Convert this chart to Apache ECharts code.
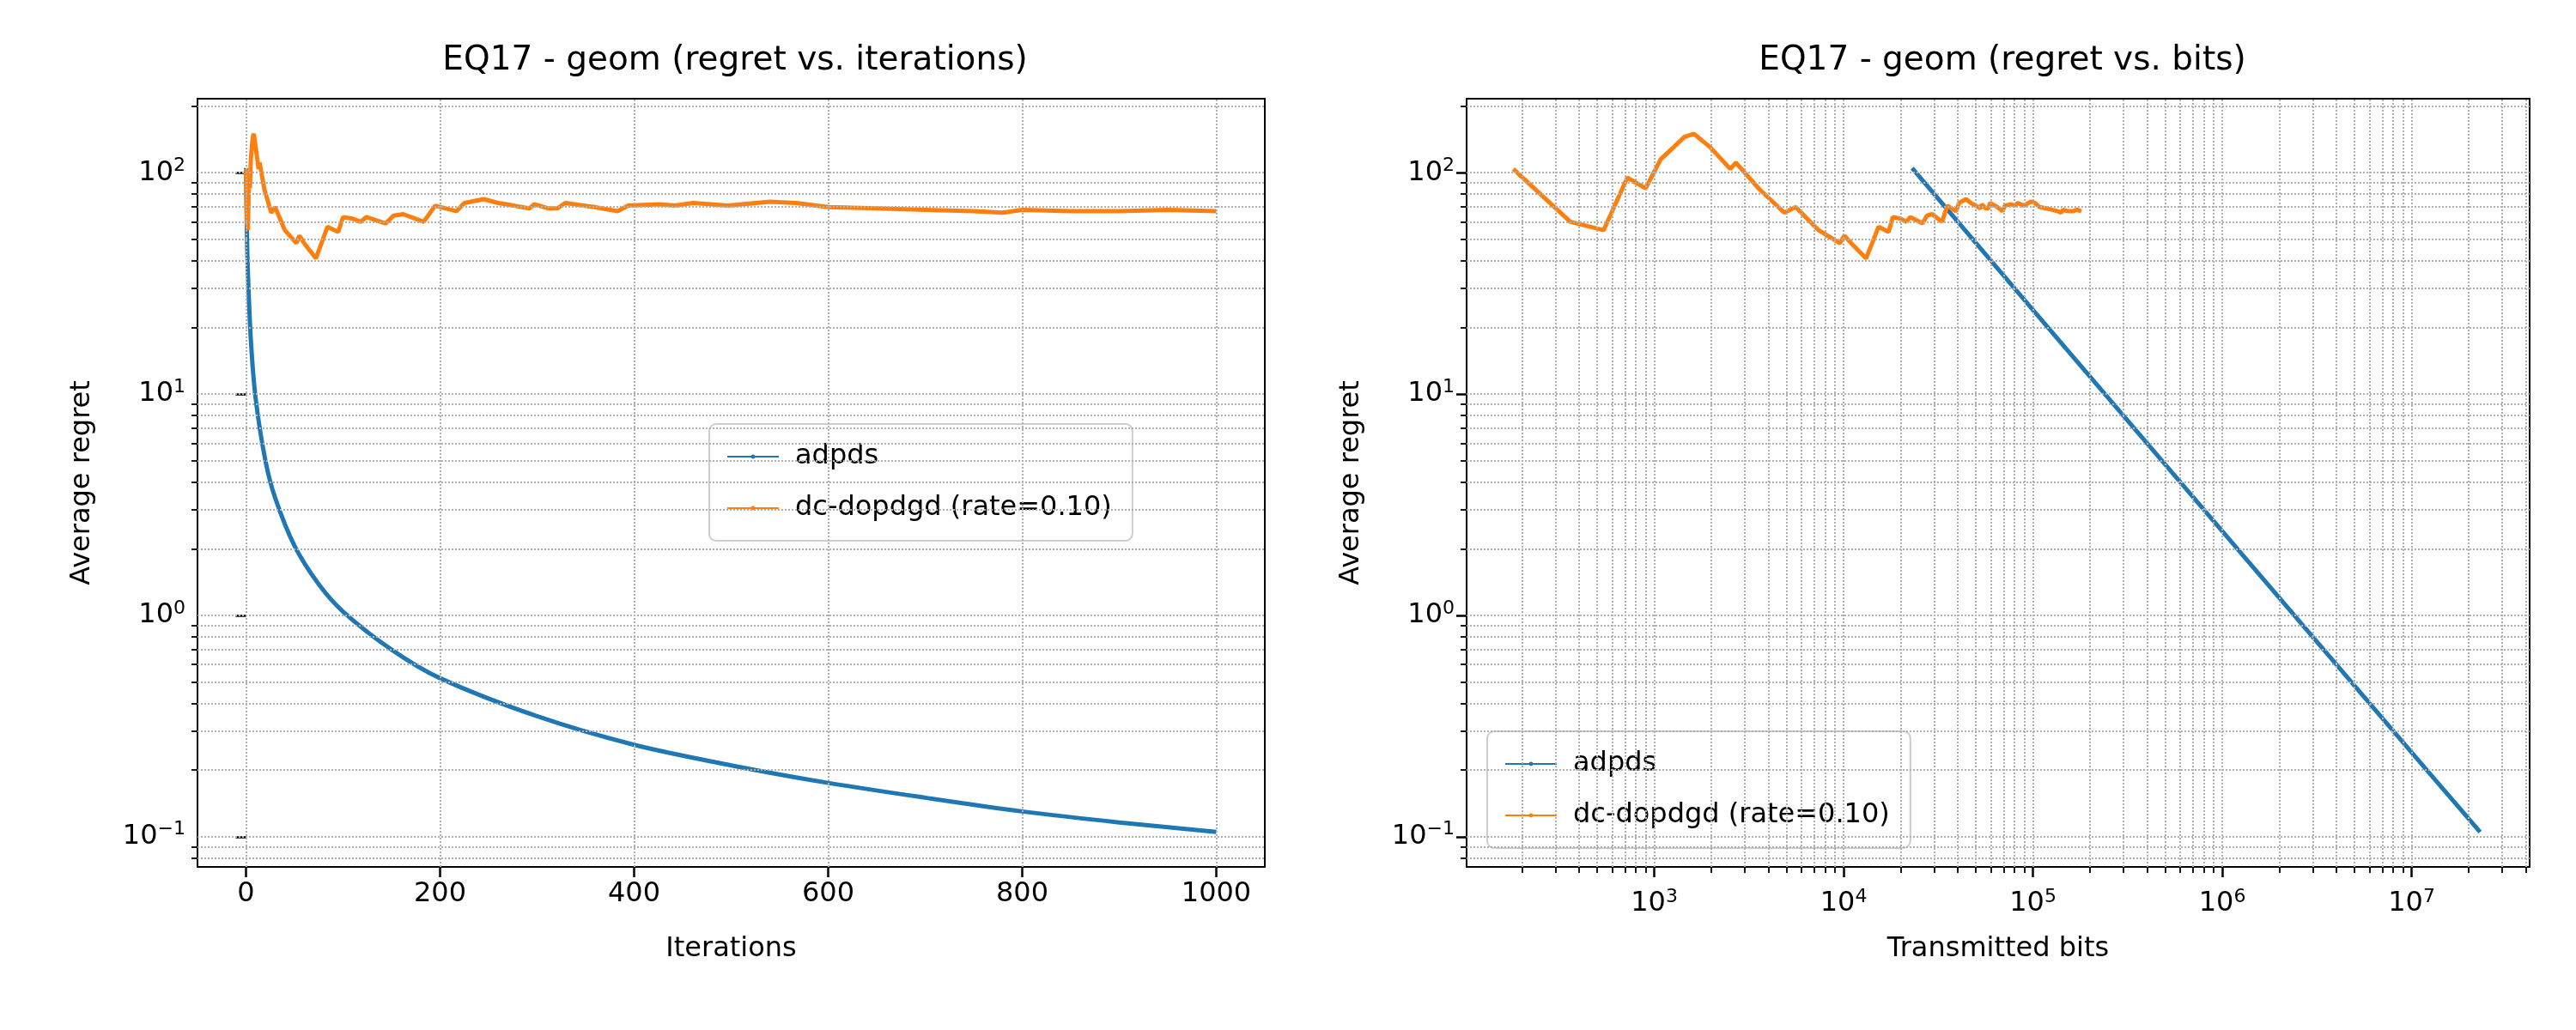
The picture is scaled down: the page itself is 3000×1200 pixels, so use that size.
<!DOCTYPE html>
<html>
<head>
<meta charset="utf-8">
<script src="https://cdn.jsdelivr.net/npm/echarts@6/dist/echarts.min.js"></script>
<style>
  html, body { margin: 0; padding: 0; background: #fff; }
  #chart { width: 3000px; height: 1200px; }
</style>
</head>
<body>
<div id="chart"></div>
<script>
// adpds
var adpdsIter = [0, 1, 2, 5, 10, 20, 30, 50, 75, 100, 150, 200, 300, 400, 500, 600, 700, 800, 900, 1000];
var adpdsRegret = [105, 52, 35, 17.5, 9.5, 5, 3.4, 2.06, 1.38, 1.04, 0.7, 0.52, 0.35, 0.26, 0.21, 0.175, 0.15, 0.13, 0.116, 0.105];
var adpdsBits = [23000, 100000, 1000000, 10000000, 23000000];
var adpdsBitsRegret = [105, 24, 2.4, 0.24, 0.105];

// dc-dopdgd (rate=0.10)
var dcIter = [0, 1, 2, 3, 4, 5, 6, 7, 8, 10, 13, 14, 19, 26, 30, 40, 52, 55, 60, 72, 84, 95,
  100, 110, 118, 124, 144, 152, 162, 183, 195, 217, 225, 245, 260, 276, 292, 297, 312, 321, 329,
  359, 383, 394, 426, 442, 461, 497, 540, 567, 600, 650, 700, 750, 780, 800, 850, 900, 950, 1000];
var dcRegret = [104, 60, 55, 95, 85, 115, 130, 145, 150, 130, 104, 111, 84, 66, 70, 55, 48, 52, 48, 41, 57, 54,
  63, 62, 60, 63, 59, 64, 65, 60, 71, 67, 73, 76, 73, 71, 69, 72, 69, 69, 73,
  70, 67, 71, 72, 71, 73, 71, 74, 73, 70, 69, 68, 67, 66, 68, 67, 67, 68, 67];
var dcBits = [180, 360, 540, 720, 900, 1080, 1260, 1440, 1620, 1980, 2520, 2700, 3600, 4860, 5580, 7380, 9540, 10080, 10980, 13140, 15300, 17280,
  18180, 19980, 21420, 22500, 26100, 27540, 29340, 33120, 35280, 39240, 40680, 44280, 46980, 49860, 52740, 53640, 56340, 57960, 59400,
  64800, 69120, 71100, 76860, 79740, 83160, 89640, 97380, 102240, 108180, 117180, 126180, 135180, 140580, 144180, 153180, 162180, 171180, 180180];

// ticks and grid
var xTicksIter = [0, 200, 400, 600, 800, 1000];
var yMajor = [0.1, 1, 10, 100];
var yMinor = [0.08, 0.09, 0.2, 0.3, 0.4, 0.5, 0.6, 0.7, 0.8, 0.9, 2, 3, 4, 5, 6, 7, 8, 9, 20, 30, 40, 50, 60, 70, 80, 90, 200];
var xBitsMajor = [1e3, 1e4, 1e5, 1e6, 1e7];
var xBitsMinor = [200, 300, 400, 500, 600, 700, 800, 900,
  2e3, 3e3, 4e3, 5e3, 6e3, 7e3, 8e3, 9e3, 2e4, 3e4, 4e4, 5e4, 6e4, 7e4, 8e4, 9e4,
  2e5, 3e5, 4e5, 5e5, 6e5, 7e5, 8e5, 9e5, 2e6, 3e6, 4e6, 5e6, 6e6, 7e6, 8e6, 9e6, 2e7, 3e7, 4e7];

var FONT = 'DejaVu Sans';
var BLUE = '#1f77b4', ORANGE = '#ff7f0e';

function pairs(xs, ys) {
    return xs.map(function (x, i) { return [x, ys[i]]; });
}
function powLabel(v) {
    var e = Math.round(Math.log10(v));
    return '10{e|' + (e < 0 ? '\u2212' + (-e) : e) + '}';
}
var richPow = {
    e: { fontSize: 22, fontFamily: FONT, color: '#000', padding: [0, 0, 16, 0] }
};
var gridLine = { type: 'dotted', color: '#b0b0b0', width: 2 };
function hLines(vals) { return vals.map(function (v) { return { yAxis: v }; }); }
function vLines(vals) { return vals.map(function (v) { return { xAxis: v }; }); }

function logY(gridIndex, show, values, len) {
    return {
        type: 'log', logBase: 10, gridIndex: gridIndex, min: 0.073, max: 216, position: 'left', offset: 0,
        axisLine: { show: false },
        axisTick: { show: true, inside: false, length: len, customValues: values, lineStyle: { color: '#000', width: show ? 2.5 : 1.8 } },
        axisLabel: show ? { show: true, customValues: values, formatter: powLabel, rich: richPow,
            fontSize: 32, fontFamily: FONT, color: '#000', margin: 14 } : { show: false },
        splitLine: { show: false }, minorTick: { show: false }, minorSplitLine: { show: false },
        name: show ? 'Average regret' : '', nameLocation: 'middle', nameGap: 118,
        nameTextStyle: { fontSize: 32, fontFamily: FONT, color: '#000' }
    };
}

var legendBase = {
    orient: 'vertical', data: ['adpds', 'dc-dopdgd (rate=0.10)'],
    itemWidth: 60, itemHeight: 6, itemGap: 28, padding: [22, 24, 22, 20],
    backgroundColor: 'rgba(255,255,255,0.8)', borderColor: '#cccccc', borderWidth: 2, borderRadius: 8,
    textStyle: { fontSize: 32, fontFamily: FONT, color: '#000', padding: [0, 0, 0, 14] }
};

var chart = echarts.init(document.getElementById('chart'));
var option = {
    backgroundColor: '#fff',
    animation: false,
    title: [
        { text: 'EQ17 - geom (regret vs. iterations)', left: 851, top: 46, textAlign: 'center',
          textStyle: { fontSize: 39, fontWeight: 'normal', fontFamily: FONT, color: '#000' } },
        { text: 'EQ17 - geom (regret vs. bits)', left: 2327, top: 46, textAlign: 'center',
          textStyle: { fontSize: 39, fontWeight: 'normal', fontFamily: FONT, color: '#000' } }
    ],
    grid: [
        { left: 230, top: 115, width: 1243, height: 895, show: true, borderColor: '#000', borderWidth: 2, backgroundColor: 'transparent' },
        { left: 1708, top: 115, width: 1238, height: 895, show: true, borderColor: '#000', borderWidth: 2, backgroundColor: 'transparent' }
    ],
    legend: [
        Object.assign({ left: 826, top: 494 }, legendBase),
        Object.assign({ left: 1732, top: 852 }, legendBase)
    ],
    xAxis: [
        { type: 'value', gridIndex: 0, min: -50, max: 1050, position: 'bottom',
          axisLine: { show: false },
          axisTick: { show: true, inside: false, length: 12, customValues: xTicksIter, lineStyle: { color: '#000', width: 2.5 } },
          axisLabel: { customValues: xTicksIter, formatter: function (v) { return String(v); },
                       fontSize: 32, fontFamily: FONT, color: '#000', margin: 16 },
          splitLine: { show: false },
          name: 'Iterations', nameLocation: 'middle', nameGap: 80,
          nameTextStyle: { fontSize: 32, fontFamily: FONT, color: '#000' } },
        { type: 'log', logBase: 10, gridIndex: 1, min: 102, max: 4.2e7, position: 'bottom',
          axisLine: { show: false },
          axisTick: { show: true, inside: false, length: 12, customValues: xBitsMajor, lineStyle: { color: '#000', width: 2.5 } },
          axisLabel: { customValues: xBitsMajor, formatter: powLabel, rich: richPow, fontSize: 32, fontFamily: FONT, color: '#000', margin: 24 },
          splitLine: { show: false }, minorTick: { show: false },
          name: 'Transmitted bits', nameLocation: 'middle', nameGap: 80,
          nameTextStyle: { fontSize: 32, fontFamily: FONT, color: '#000' } },
        { type: 'log', logBase: 10, gridIndex: 1, min: 102, max: 4.2e7, position: 'bottom', offset: 0,
          axisLine: { show: false },
          axisTick: { show: true, inside: false, length: 7, customValues: xBitsMinor, lineStyle: { color: '#000', width: 1.8 } },
          axisLabel: { show: false }, splitLine: { show: false } }
    ],
    yAxis: [
        logY(0, true, yMajor, 12),
        logY(0, false, yMinor, 7),
        logY(1, true, yMajor, 12),
        logY(1, false, yMinor, 7)
    ],
    series: [
        { name: 'adpds', type: 'line', xAxisIndex: 0, yAxisIndex: 0, data: pairs(adpdsIter, adpdsRegret),
          smooth: 0.3, showSymbol: false, symbol: 'none', lineStyle: { color: BLUE, width: 5 }, itemStyle: { color: BLUE },
          markLine: { silent: true, symbol: 'none', label: { show: false }, lineStyle: gridLine,
                      data: hLines(yMajor.concat(yMinor)).concat(vLines(xTicksIter)) }, z: 3 },
        { name: 'dc-dopdgd (rate=0.10)', type: 'line', xAxisIndex: 0, yAxisIndex: 0, data: pairs(dcIter, dcRegret),
          showSymbol: false, symbol: 'none', lineStyle: { color: ORANGE, width: 5 }, itemStyle: { color: ORANGE }, z: 4 },
        { name: 'adpds', type: 'line', xAxisIndex: 1, yAxisIndex: 2, data: pairs(adpdsBits, adpdsBitsRegret),
          showSymbol: false, symbol: 'none', lineStyle: { color: BLUE, width: 5 }, itemStyle: { color: BLUE },
          markLine: { silent: true, symbol: 'none', label: { show: false }, lineStyle: gridLine,
                      data: hLines(yMajor.concat(yMinor)).concat(vLines(xBitsMajor.concat(xBitsMinor))) }, z: 3 },
        { name: 'dc-dopdgd (rate=0.10)', type: 'line', xAxisIndex: 1, yAxisIndex: 2, data: pairs(dcBits, dcRegret),
          showSymbol: false, symbol: 'none', lineStyle: { color: ORANGE, width: 5 }, itemStyle: { color: ORANGE }, z: 4 }
    ]
};
chart.setOption(option);
</script>
</body>
</html>
